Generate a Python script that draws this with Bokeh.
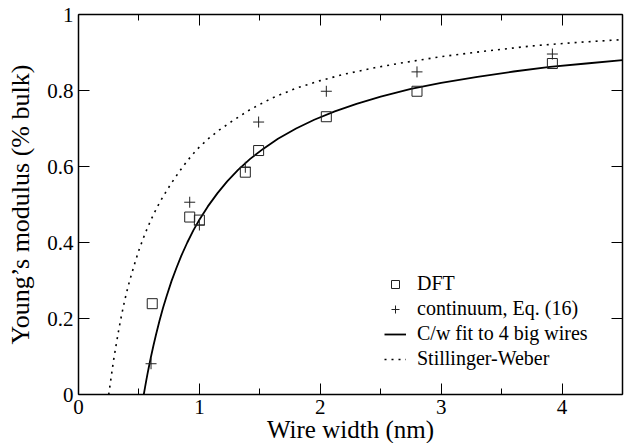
from bokeh.plotting import figure
from bokeh.models import Range1d, LinearAxis, FixedTicker, Legend, LegendItem, Title
from bokeh.embed import file_html
from bokeh.resources import INLINE

# ---- data ----
dft_width = [0.61, 0.92, 1.00, 1.38, 1.49, 2.05, 2.80, 3.92]
dft_modulus = [0.239, 0.467, 0.459, 0.585, 0.642, 0.731, 0.798, 0.871]

cont_width = [0.60, 0.92, 1.00, 1.38, 1.49, 2.05, 2.80, 3.92]
cont_modulus = [0.081, 0.506, 0.446, 0.598, 0.717, 0.798, 0.849, 0.896]

fit_width = [0.54, 0.55, 0.56, 0.57, 0.58, 0.60, 0.62, 0.64, 0.67, 0.70, 0.73,
             0.77, 0.81, 0.85, 0.90, 0.95, 1.00, 1.07, 1.15, 1.23, 1.32, 1.42,
             1.53, 1.65, 1.80, 1.95, 2.12, 2.30, 2.50, 2.75, 3.00, 3.30, 3.60,
             3.90, 4.20, 4.50]
fit_modulus = [0.000, 0.018, 0.036, 0.053, 0.069, 0.100, 0.129, 0.156, 0.194,
               0.229, 0.260, 0.299, 0.333, 0.365, 0.400, 0.432, 0.460, 0.495,
               0.530, 0.561, 0.591, 0.620, 0.647, 0.673, 0.700, 0.723, 0.745,
               0.765, 0.784, 0.804, 0.820, 0.836, 0.850, 0.862, 0.871, 0.880]

sw_width = [0.25, 0.27, 0.29, 0.31, 0.33, 0.35, 0.38, 0.41, 0.44, 0.47, 0.50,
            0.55, 0.60, 0.65, 0.70, 0.76, 0.83, 0.90, 0.98, 1.07, 1.16, 1.26,
            1.42, 1.60, 1.80, 2.00, 2.20, 2.45, 2.70, 3.00, 3.35, 3.74, 4.10, 4.50]
sw_modulus = [0.000, 0.045, 0.090, 0.128, 0.165, 0.199, 0.245, 0.284, 0.318,
              0.350, 0.380, 0.423, 0.460, 0.493, 0.521, 0.552, 0.585, 0.615,
              0.645, 0.672, 0.695, 0.717, 0.750, 0.780, 0.806, 0.826, 0.843,
              0.860, 0.874, 0.889, 0.903, 0.917, 0.926, 0.934]

x_ticks = [0, 1, 2, 3, 4]
x_minor_ticks = [0.5, 1.5, 2.5, 3.5, 4.5]
x_tick_labels = ["0", "1", "2", "3", "4"]
y_ticks = [0, 0.2, 0.4, 0.6, 0.8, 1.0]
y_tick_labels = ["0", "0.2", "0.4", "0.6", "0.8", "1"]

x_title = "Wire width (nm)"
y_title = "Young’s modulus (% bulk)"

AXIS_FONT = "Times"
LEGEND_FONT = "serif"

p = figure(width=632, height=443, x_range=Range1d(0, 4.5), y_range=Range1d(0, 1),
           output_backend="svg", toolbar_location=None,
           min_border_left=78, min_border_right=10, min_border_top=14,
           min_border_bottom=49, outline_line_color=None,
           background_fill_color="white", border_fill_color="white")
p.grid.visible = False


def style(ax, ticker, labels, minor):
    ax.ticker = ticker
    ax.axis_line_color = "black"
    ax.axis_line_width = 1.5
    ax.major_tick_in = 11
    ax.major_tick_out = 0
    ax.major_tick_line_color = "black"
    ax.major_tick_line_width = 1
    if minor:
        ax.minor_tick_in = 6
        ax.minor_tick_out = 0
        ax.minor_tick_line_color = "black"
        ax.minor_tick_line_width = 1
    else:
        ax.minor_tick_line_color = None
    ax.major_label_text_font = AXIS_FONT
    ax.major_label_text_color = "black"
    ax.major_label_text_font_size = "21px"
    ax.major_label_overrides = labels


xa = p.xaxis[0]
style(xa, FixedTicker(ticks=x_ticks, minor_ticks=x_minor_ticks),
      dict(zip(x_ticks, x_tick_labels)), True)
xa.major_label_standoff = 5

ya = p.yaxis[0]
style(ya, FixedTicker(ticks=y_ticks, minor_ticks=[]),
      dict(zip(y_ticks, y_tick_labels)), False)
ya.major_label_standoff = 5
ya.axis_label = y_title
ya.axis_label_text_font = AXIS_FONT
ya.axis_label_text_font_style = "normal"
ya.axis_label_text_font_size = "26px"
ya.axis_label_text_color = "black"
ya.axis_label_standoff = 9

top = LinearAxis()
style(top, FixedTicker(ticks=x_ticks, minor_ticks=x_minor_ticks),
      {t: "" for t in x_ticks}, True)
top.major_label_text_font_size = "1px"
top.major_label_standoff = 0
p.add_layout(top, "above")
right = LinearAxis()
style(right, FixedTicker(ticks=y_ticks, minor_ticks=[]),
      {t: "" for t in y_ticks}, False)
right.major_label_text_font_size = "1px"
right.major_label_standoff = 0
p.add_layout(right, "right")

# x-axis title as a title panel below the axis
p.add_layout(Title(text=x_title, align="center", text_font=AXIS_FONT,
                   text_font_size="25px", text_font_style="normal",
                   text_color="black", standoff=-6), "below")

r_sw = p.line(sw_width, sw_modulus, line_color="black", line_width=1.6, line_dash="2 5")
r_fit = p.line(fit_width, fit_modulus, line_color="black", line_width=1.8)
r_dft = p.scatter(dft_width, dft_modulus, marker="square", size=10, fill_color=None,
                  line_color="#222222", line_width=1)
r_cont = p.scatter(cont_width, cont_modulus, marker="cross", size=11,
                   line_color="#222222", line_width=1)

legend = Legend(items=[LegendItem(label="DFT", renderers=[r_dft]),
                       LegendItem(label="continuum, Eq. (16)", renderers=[r_cont]),
                       LegendItem(label="C/w fit to 4 big wires", renderers=[r_fit]),
                       LegendItem(label="Stillinger-Weber", renderers=[r_sw])],
                location=(306, 24), border_line_color=None, background_fill_alpha=0,
                label_text_font=LEGEND_FONT, label_text_font_size="20px",
                label_text_color="black", glyph_width=22, glyph_height=20,
                label_height=20, label_standoff=11, spacing=2, padding=0, margin=0)
p.add_layout(legend)

open("out.html", "w").write(file_html(p, INLINE))
